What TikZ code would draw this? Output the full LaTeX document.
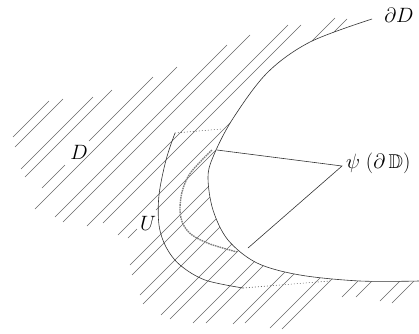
\documentclass[tikz,border=0pt]{standalone}
\usepackage{amssymb}
\begin{document}
\begin{tikzpicture}[x=1pt,y=-1pt,
  hatch/.style={line width=0.55pt, black!60},
  bdry/.style={line width=0.6pt, black!80},
  dots/.style={line width=0.6pt, black!60, dash pattern=on 1pt off 2pt},
  graydash/.style={line width=1.4pt, black!50, dash pattern=on 1.6pt off 0.8pt},
  lab/.style={font=\fontsize{20}{24}\selectfont, inner sep=0pt}]
\useasboundingbox (0,0) rectangle (419,333);
% hatching of D
\foreach \c/\a/\b in {150/13/49,162/15/63,190/21/93,202/25/112,230/42/65,230/89/153,
  244/35/177,272/55/227,285/63/250,313/87/288,326/103/301,353/118/335,
  366/128/137,366/156/347,395/130/300,407/132/300,435/140/300,447/143/300,
  476/161/300,489/170/300,516/193/300,529/206/300,557/233/307,568/245/318,
  598/270/348,611/282/361,639/342/389,653/356/403,681/380/431,695/392/445}
  \draw[hatch] ({\a},{\c-\a}) -- ({\b},{\c-\b});
% interior of the boundary curve
\fill[white] plot[smooth,tension=0.55] coordinates {(372,19) (310,42) (267,73) (232,120) (213,157) (208,178) (213,210) (228,240) (257,263) (300,275) (360,281) (419,281)}
  -- (460,281) -- (460,-10) -- (380,-10) -- cycle;
\draw[bdry] plot[smooth,tension=0.55] coordinates {(372,19) (310,42) (267,73) (232,120) (213,157) (208,178) (213,210) (228,240) (257,263) (300,275) (360,281) (419,281)};
% U
\coordinate (ut) at (175,133);
\coordinate (utr) at (222,129);
\coordinate (ub) at (243,288);
\coordinate (ubr) at (330,281);
\draw[bdry] plot[smooth,tension=0.55] coordinates {(175,133) (166,160) (159,195) (159,225) (166,247) (180,265) (205,280) (243,288)};
\draw[dots] (ut) -- (utr);
\draw[dots] (ub) -- (ubr);
% image of the circle inside U
\draw[graydash] plot[smooth,tension=0.55] coordinates {(212,150) (201,161) (189,175) (182,192) (180,210) (183,224) (192,235) (210,244) (237,252)};
% labels
\node[lab] (lD) at (79,152) {$D$};
\node[lab] (lU) at (148,223) {$U$};
\node[lab] (ldD) at (399,15) {$\partial D$};
\node[lab, anchor=west] (lpsi) at (346,163) {$\psi\;(\partial\,\mathbb{D})$};
\coordinate (apex) at (342,166);
\coordinate (p1) at (217,150);
\coordinate (p2) at (248,248);
\draw[bdry] (p1) -- (apex) -- (p2);
\end{tikzpicture}
\end{document}
